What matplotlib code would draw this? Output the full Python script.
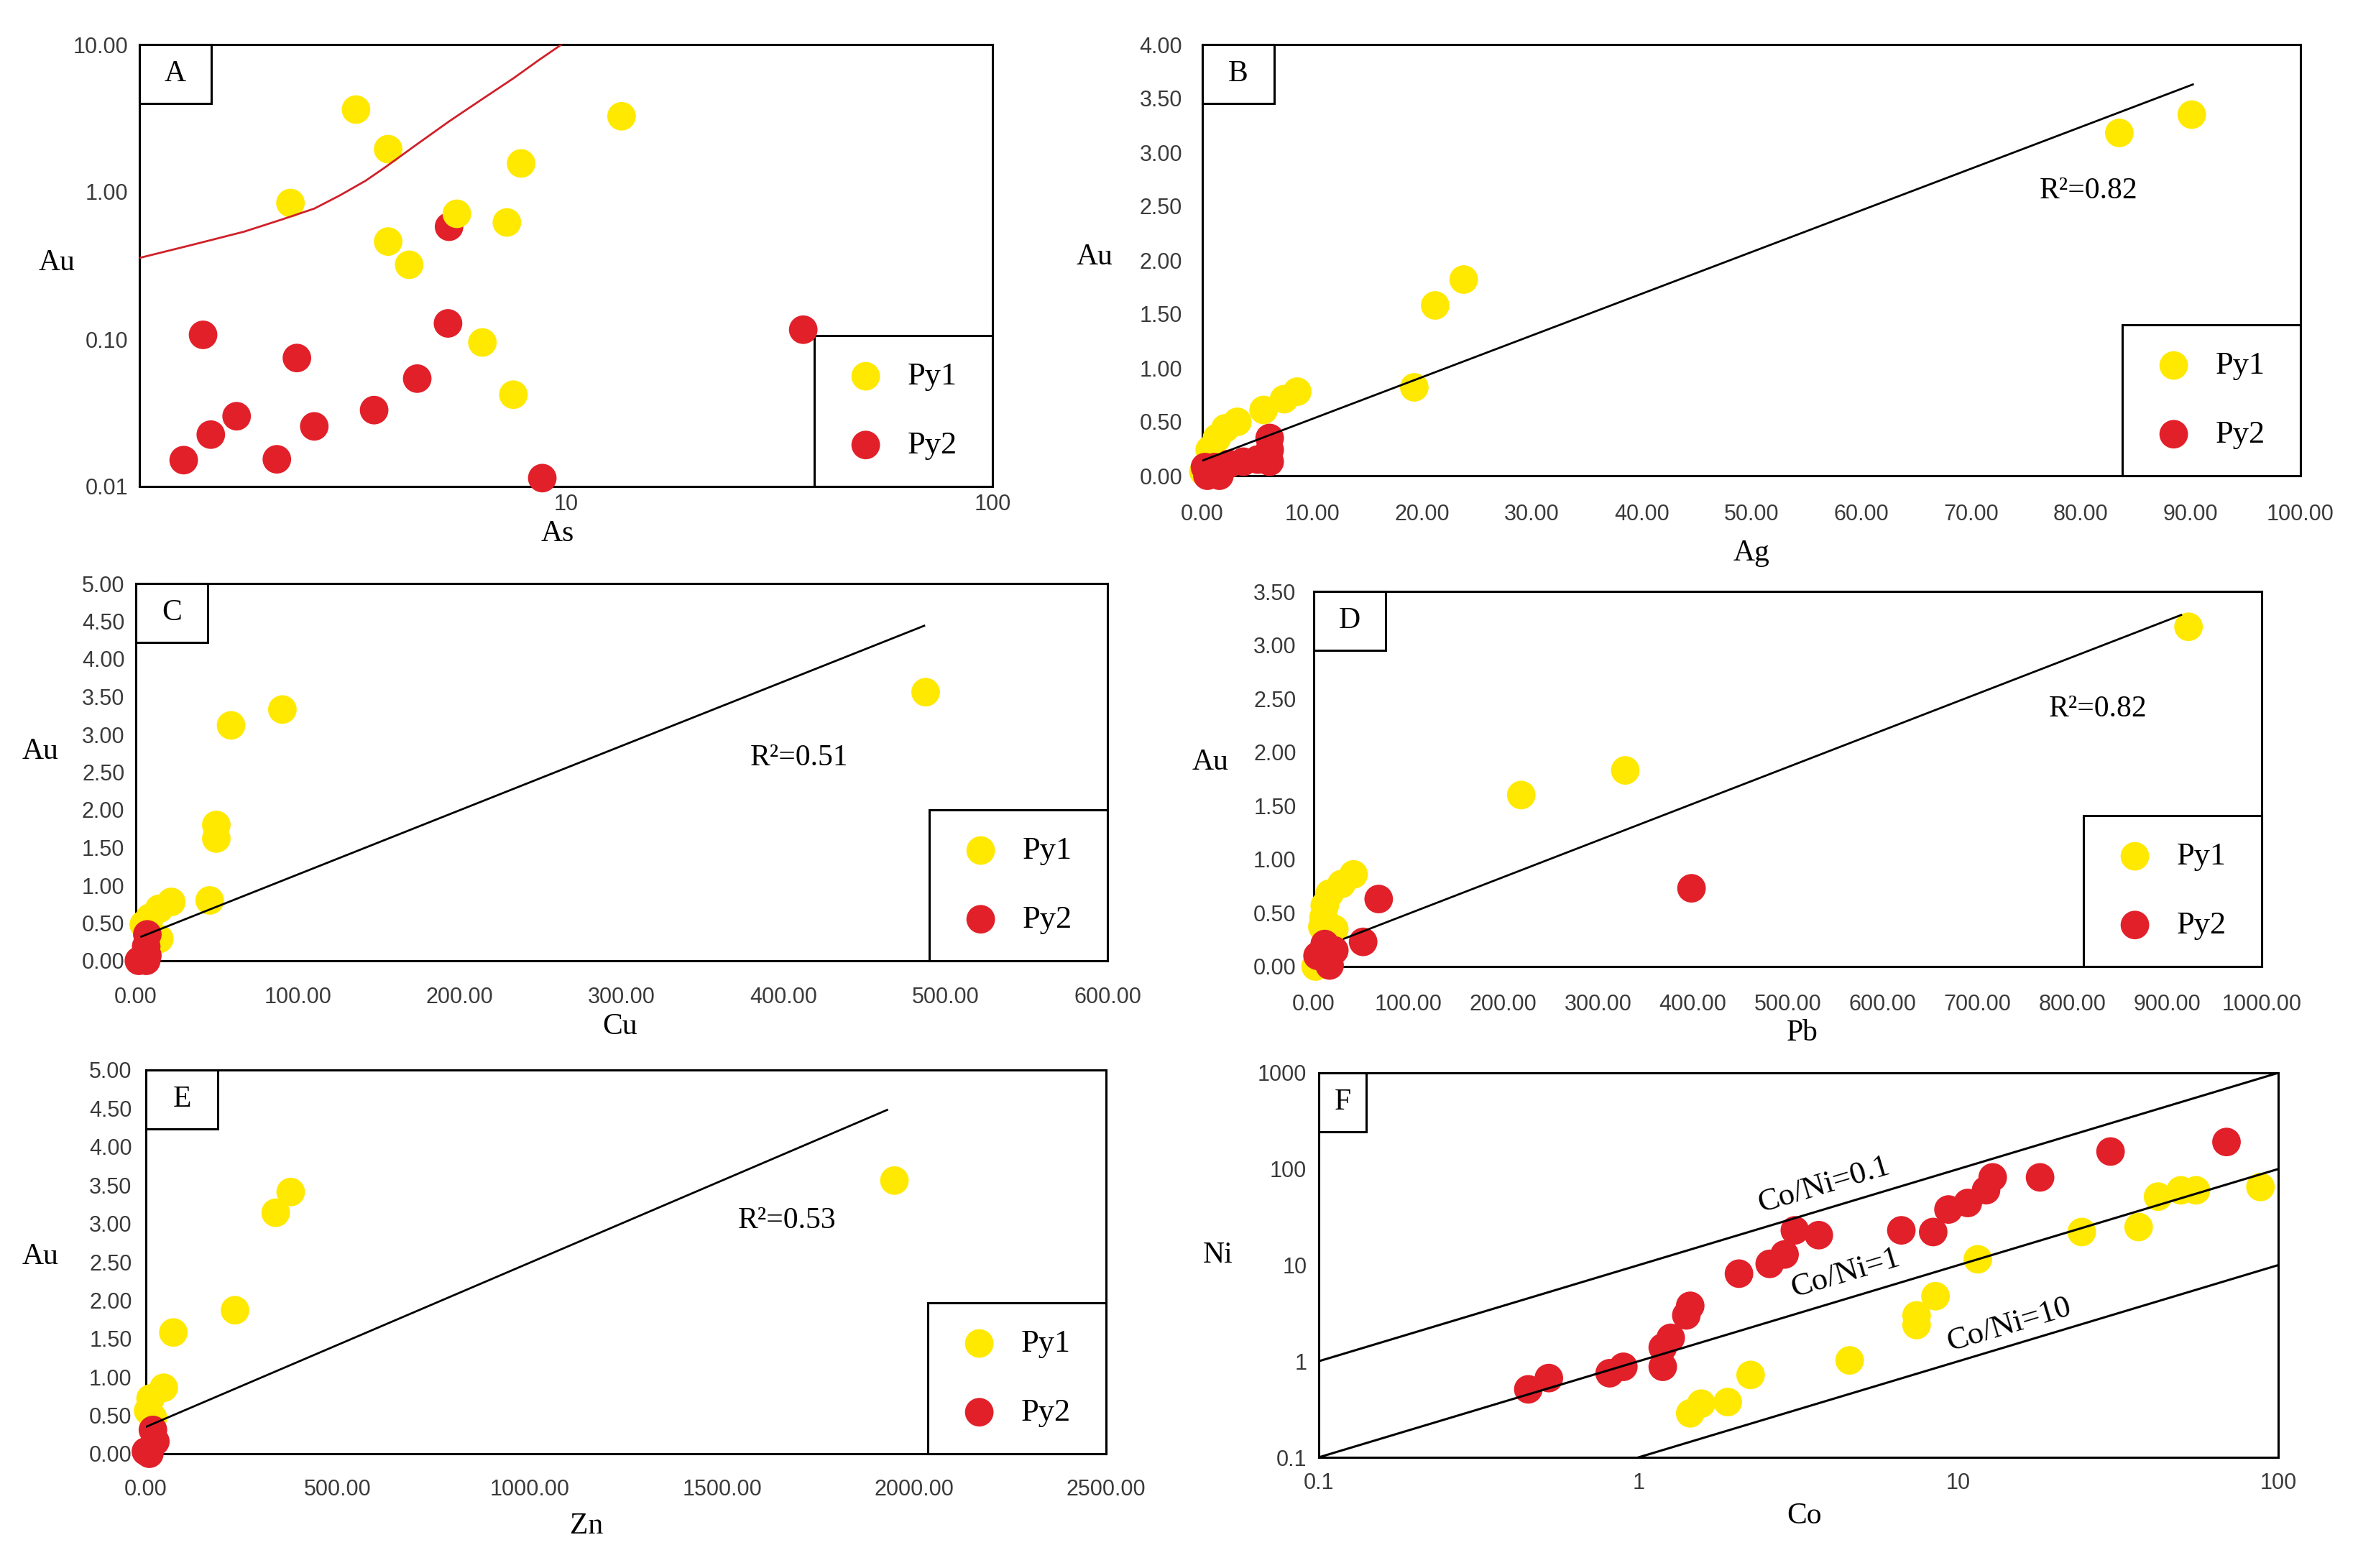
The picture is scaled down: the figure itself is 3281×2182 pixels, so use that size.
import numpy as np
import matplotlib.pyplot as plt
from matplotlib.patches import Rectangle
from matplotlib.ticker import NullLocator

W_PX, H_PX, DPI = 3281, 2182, 200
YELLOW = '#FFE900'
RED = '#E2202A'
SERIF = 'Liberation Serif'

plt.rcParams['font.family'] = 'Liberation Sans'

# ---- A: Au vs As (log-log) ----
a_py1_as = [3.22, 13.5, 3.83, 7.85, 2.26, 5.55, 7.27, 3.83, 4.29, 6.37, 7.53]
a_py1_au = [3.62, 3.26, 1.95, 1.56, 0.84, 0.71, 0.62, 0.46, 0.32, 0.095, 0.042]
a_py2_as = [5.32, 5.29, 1.41, 36.0, 2.34, 4.48, 3.55, 1.69, 1.47, 2.57, 1.27, 2.10, 8.80]
a_py2_au = [0.58, 0.128, 0.107, 0.116, 0.0745, 0.054, 0.033, 0.030, 0.0225, 0.0256, 0.0151, 0.0153, 0.0114]
a_curve_as = [1.0, 1.33, 1.76, 2.16, 2.57, 2.95, 3.39, 3.77, 4.48, 5.33, 6.33, 7.53, 8.64, 9.76]
a_curve_au = [0.356, 0.437, 0.537, 0.65, 0.77, 0.946, 1.19, 1.47, 2.11, 3.02, 4.22, 5.9, 7.85, 10.0]
a_xticks = [10, 100]
a_xticklabels = ['10', '100']
a_yticks = [0.01, 0.1, 1, 10]
a_yticklabels = ['0.01', '0.10', '1.00', '10.00']

# ---- B: Au vs Ag ----
b_py1_ag = [83.5, 90.1, 23.8, 21.2, 19.3, 8.64, 7.44, 5.58, 3.19, 2.1, 1.33, 0.67, 0.1]
b_py1_au = [3.18, 3.35, 1.82, 1.58, 0.82, 0.78, 0.71, 0.61, 0.50, 0.44, 0.35, 0.24, 0.04]
b_py2_ag = [6.13, 6.13, 6.13, 5.04, 3.73, 2.42, 1.11, 0.24, 1.55, 0.46]
b_py2_au = [0.35, 0.24, 0.13, 0.15, 0.13, 0.11, 0.08, 0.08, 0.0, 0.0]
b_fit_ag = [0.0, 90.2]
b_fit_au = [0.14, 3.63]
b_r2 = 'R²=0.82'

# ---- C: Au vs Cu ----
c_py1_cu = [487.7, 90.5, 58.8, 49.7, 49.7, 45.6, 21.9, 14.5, 8.6, 4.9, 14.5]
c_py1_au = [3.56, 3.33, 3.12, 1.80, 1.62, 0.80, 0.78, 0.69, 0.57, 0.48, 0.29]
c_py2_cu = [7.1, 6.4, 7.1, 1.9, 6.4]
c_py2_au = [0.35, 0.19, 0.07, 0.0, 0.0]
c_fit_cu = [3.4, 486.8]
c_fit_au = [0.32, 4.44]
c_r2 = 'R²=0.51'

# ---- D: Au vs Pb ----
d_py1_pb = [922.8, 328.6, 218.9, 42.0, 29.3, 16.7, 11.6, 10.4, 9.1, 21.7, 2.0]
d_py1_au = [3.17, 1.83, 1.60, 0.86, 0.77, 0.68, 0.57, 0.46, 0.37, 0.35, 0.0]
d_py2_pb = [398.5, 68.5, 52.1, 11.6, 21.7, 4.0, 16.7]
d_py2_au = [0.73, 0.63, 0.23, 0.21, 0.15, 0.10, 0.01]
d_fit_pb = [32.0, 915.0]
d_fit_au = [0.26, 3.28]
d_r2 = 'R²=0.82'

# ---- E: Au vs Zn ----
e_py1_zn = [1949, 377, 338, 232, 71.5, 46.4, 12.2, 6.0, 18.3]
e_py1_au = [3.56, 3.41, 3.14, 1.87, 1.58, 0.86, 0.72, 0.56, 0.47]
e_py2_zn = [18.3, 24.7, 0.0, 9.0]
e_py2_au = [0.31, 0.16, 0.03, 0.0]
e_fit_zn = [0.0, 1930.0]
e_fit_au = [0.35, 4.48]
e_r2 = 'R²=0.53'

# ---- F: Ni vs Co (log-log) ----
f_py1_co = [88, 55.3, 49.6, 42.1, 36.6, 24.3, 11.5, 8.48, 7.4, 7.4, 4.57, 2.24, 1.9, 1.57, 1.45]
f_py1_ni = [65, 60, 60, 51.6, 24.9, 22.1, 11.5, 4.75, 3.0, 2.38, 1.02, 0.72, 0.376, 0.362, 0.287]
f_py2_co = [68.9, 29.9, 18.0, 12.8, 12.2, 10.7, 9.31, 8.34, 6.63, 3.66, 3.08, 2.86, 2.57,
            2.06, 1.45, 1.41, 1.26, 1.19, 1.19, 0.896, 0.812, 0.524, 0.452]
f_py2_ni = [191, 152, 81.8, 81.8, 60.2, 44.3, 37.9, 22.1, 23.0, 20.5, 23.0, 12.9, 10.3,
            8.15, 3.77, 3.0, 1.75, 1.39, 0.875, 0.875, 0.75, 0.668, 0.51]
f_ratios = [0.1, 1, 10]
f_ratio_labels = ['Co/Ni=0.1', 'Co/Ni=1', 'Co/Ni=10']
f_label_pos = [(3.8, 68), (4.44, 8.2), (14.4, 2.38)]
f_xticks = [0.1, 1, 10, 100]
f_xticklabels = ['0.1', '1', '10', '100']
f_yticks = [0.1, 1, 10, 100, 1000]
f_yticklabels = ['0.1', '1', '10', '100', '1000']

fig = plt.figure(figsize=(W_PX / DPI, H_PX / DPI), dpi=DPI)
fig.patch.set_facecolor('white')


def px_axes(l, t, r, b):
    return fig.add_axes([l / W_PX, 1 - b / H_PX, (r - l) / W_PX, (b - t) / H_PX])


def ax_px(ax):
    bb = ax.get_position()
    return bb.width * W_PX, bb.height * H_PX


def dots(ax, x, y, color, z=3):
    return ax.scatter(x, y, s=205, c=color, edgecolors='none', clip_on=False, zorder=z)


def style(ax, letter, xlabel, ylabel, xlab_xy, ylab_xy, xpad, ypad, box_w=100):
    for sp in ax.spines.values():
        sp.set_linewidth(1.1)
        sp.set_color('black')
    ax.tick_params(which='both', length=0, labelsize=11, labelcolor='#3a3a3a')
    ax.tick_params(axis='x', pad=xpad)
    ax.tick_params(axis='y', pad=ypad)
    ax.set_xlabel(xlabel, family=SERIF, fontsize=15, va='center', ha='center')
    ax.xaxis.set_label_coords(*xlab_xy)
    ax.set_ylabel(ylabel, family=SERIF, fontsize=15, rotation=0, va='center', ha='center')
    ax.yaxis.set_label_coords(*ylab_xy)
    aw, ah = ax_px(ax)
    w, h = box_w / aw, 82 / ah
    ax.add_patch(Rectangle((0, 1 - h), w, h, transform=ax.transAxes, fc='white',
                           ec='black', lw=1.1, zorder=2, clip_on=False))
    ax.text(w / 2, 1 - h / 2, letter, transform=ax.transAxes, ha='center', va='center',
            fontsize=15, family=SERIF, zorder=6)


def legend_box(ax, h1, h2):
    aw, ah = ax_px(ax)
    w, h = 248 / aw, 210 / ah
    ax.add_patch(Rectangle((1 - w, 0), w, h, transform=ax.transAxes, fc='white',
                           ec='black', lw=1.1, zorder=2, clip_on=False))
    leg = ax.legend(handles=[h1, h2], labels=['Py1', 'Py2'], loc='center',
                    bbox_to_anchor=(1 - w, 0, w, h), bbox_transform=ax.transAxes,
                    frameon=False, prop=dict(family=SERIF, size=16), handlelength=1.0,
                    handletextpad=0.8, labelspacing=1.25, scatterpoints=1, borderpad=0)
    leg.set_zorder(6)


def linear_ticks(ax, xmax, xstep, ymax, ystep):
    ax.set_xlim(0, xmax)
    ax.set_ylim(0, ymax)
    xt = np.arange(0, xmax + xstep / 2, xstep)
    yt = np.arange(0, ymax + ystep / 2, ystep)
    ax.set_xticks(xt, [f'{v:.2f}' for v in xt])
    ax.set_yticks(yt, [f'{v:.2f}' for v in yt])


# A
ax = px_axes(194, 62, 1381, 677)
ax.set_xscale('log')
ax.set_yscale('log')
ax.set_xlim(1, 100)
ax.set_ylim(0.01, 10)
r = dots(ax, a_py2_as, a_py2_au, RED, z=3)
y = dots(ax, a_py1_as, a_py1_au, YELLOW, z=3.5)
ax.plot(a_curve_as, a_curve_au, color='#D0202A', lw=1.0, zorder=4)
ax.set_xticks(a_xticks, a_xticklabels)
ax.set_yticks(a_yticks, a_yticklabels)
ax.xaxis.set_minor_locator(NullLocator())
ax.yaxis.set_minor_locator(NullLocator())
style(ax, 'A', 'As', 'Au', (0.49, -0.107), (-0.0965, 0.506), 3.6, 5.5)
legend_box(ax, y, r)

# B
ax = px_axes(1673, 62, 3201, 662)
linear_ticks(ax, 100, 10, 4, 0.5)
y = dots(ax, b_py1_ag, b_py1_au, YELLOW)
r = dots(ax, b_py2_ag, b_py2_au, RED)
ax.plot(b_fit_ag, b_fit_au, color='black', lw=1.0, zorder=4)
ax.text(80.7, 2.64, b_r2, family=SERIF, fontsize=15, ha='center', va='center')
style(ax, 'B', 'Ag', 'Au', (0.50, -0.18), (-0.098, 0.507), 14, 10)
legend_box(ax, y, r)

# C
ax = px_axes(189, 812, 1541, 1337)
linear_ticks(ax, 600, 100, 5, 0.5)
y = dots(ax, c_py1_cu, c_py1_au, YELLOW)
r = dots(ax, c_py2_cu, c_py2_au, RED)
ax.plot(c_fit_cu, c_fit_au, color='black', lw=1.0, zorder=4)
ax.text(409.7, 2.69, c_r2, family=SERIF, fontsize=15, ha='center', va='center')
style(ax, 'C', 'Cu', 'Au', (0.498, -0.175), (-0.098, 0.554), 13, 5.6)
legend_box(ax, y, r)

# D
ax = px_axes(1828, 823, 3147, 1345)
linear_ticks(ax, 1000, 100, 3.5, 0.5)
y = dots(ax, d_py1_pb, d_py1_au, YELLOW)
r = dots(ax, d_py2_pb, d_py2_au, RED)
ax.plot(d_fit_pb, d_fit_au, color='black', lw=1.0, zorder=4)
ax.text(826.9, 2.40, d_r2, family=SERIF, fontsize=15, ha='center', va='center')
style(ax, 'D', 'Pb', 'Au', (0.515, -0.178), (-0.109, 0.545), 13.7, 8.8)
legend_box(ax, y, r)

# E
ax = px_axes(203, 1489, 1539, 2023)
linear_ticks(ax, 2500, 500, 5, 0.5)
y = dots(ax, e_py1_zn, e_py1_au, YELLOW)
r = dots(ax, e_py2_zn, e_py2_au, RED)
ax.plot(e_fit_zn, e_fit_au, color='black', lw=1.0, zorder=4)
ax.text(1668.6, 3.04, e_r2, family=SERIF, fontsize=15, ha='center', va='center')
style(ax, 'E', 'Zn', 'Au', (0.459, -0.188), (-0.110, 0.513), 12.6, 7)
legend_box(ax, y, r)

# F
ax = px_axes(1835, 1493, 3170, 2028)
ax.set_xscale('log')
ax.set_yscale('log')
ax.set_xlim(0.1, 100)
ax.set_ylim(0.1, 1000)
co_line = np.array([0.1, 100.0])
for ratio in f_ratios:
    ax.plot(co_line, co_line / ratio, color='black', lw=1.1, zorder=4)
dots(ax, f_py1_co, f_py1_ni, YELLOW)
dots(ax, f_py2_co, f_py2_ni, RED)
p1 = ax.transData.transform((0.1, 1.0))
p2 = ax.transData.transform((100.0, 1000.0))
ang = np.degrees(np.arctan2(p2[1] - p1[1], p2[0] - p1[0]))
for lab, (tx, ty) in zip(f_ratio_labels, f_label_pos):
    ax.text(tx, ty, lab, family=SERIF, fontsize=16, rotation=ang,
            rotation_mode='anchor', ha='center', va='center')
ax.set_xticks(f_xticks, f_xticklabels)
ax.set_yticks(f_yticks, f_yticklabels)
ax.xaxis.set_minor_locator(NullLocator())
ax.yaxis.set_minor_locator(NullLocator())
style(ax, 'F', 'Co', 'Ni', (0.506, -0.152), (-0.105, 0.526), 7.6, 6, box_w=66)

fig.savefig('out.png', dpi=DPI, facecolor='white')
